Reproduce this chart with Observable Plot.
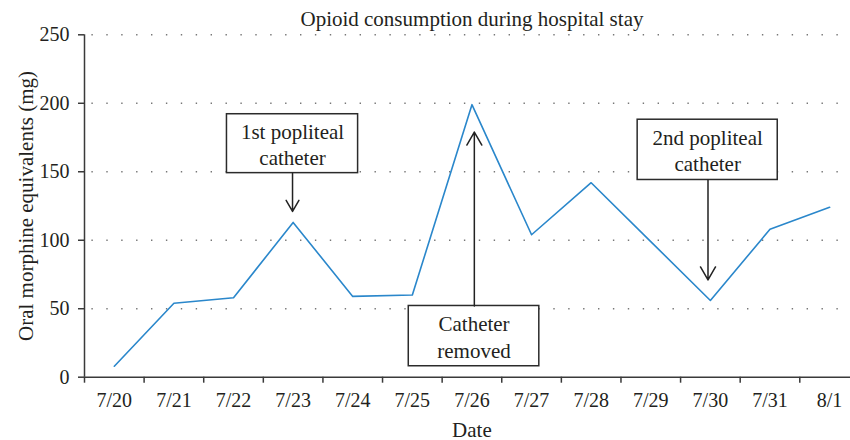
<!DOCTYPE html>
<html>
<head>
<meta charset="utf-8">
<script src="https://cdn.jsdelivr.net/npm/d3@7"></script>
<script src="https://cdn.jsdelivr.net/npm/@observablehq/plot@0.6"></script>
<style>
  html, body { margin: 0; padding: 0; background: #fff; }
</style>
</head>
<body>
<div id="chart"></div>
<script>
// Categories and values
const dates = ["7/20", "7/21", "7/22", "7/23", "7/24", "7/25", "7/26", "7/27", "7/28", "7/29", "7/30", "7/31", "8/1"];
const ome = [8, 54, 58, 113, 59, 60, 199, 104, 142, 99, 56, 108, 124];
const yTicks = [0, 50, 100, 150, 200, 250];

// Annotations (data units: x = day index, y = mg)
const noteText = ["1st popliteal\ncatheter", "Catheter\nremoved", "2nd popliteal\ncatheter"];
const noteX1 = [2.39, 5.44, 9.28];
const noteX2 = [4.59, 7.63, 11.63];
const noteY1 = [149, 8, 144];
const noteY2 = [192, 52, 188];
const arrowX = [3.49, 6.54, 10.46];
const arrowFrom = [149, 52, 144];
const arrowTo = [121, 179, 71];

const title = "Opioid consumption during hospital stay";
const yLabel = "Oral morphine equivalents (mg)";
const xLabel = "Date";

const idx = dates.map((d, i) => i);
const notes = noteText.map((d, i) => i);
const ink = "#231f20";
const axisInk = "#3a3a3a";

const chart = Plot.plot({
  width: 850,
  height: 440,
  marginLeft: 84,
  marginRight: -8.9,
  marginTop: 34.3,
  marginBottom: 63.3,
  style: { fontFamily: "'Liberation Serif', 'DejaVu Serif', serif", fontSize: "20px", color: ink, background: "#fff" },
  x: { type: "linear", domain: [0, 13] },
  y: { domain: [0, 250] },
  marks: [
    Plot.gridY(yTicks.filter(d => d > 0), { stroke: "#777", strokeOpacity: 1, strokeWidth: 1.4, strokeDasharray: "1.4,13.5", strokeDashoffset: 7.5 }),
    Plot.axisY(yTicks, { tickSize: 6, tickPadding: 9, fontSize: 20, label: null, stroke: axisInk, strokeWidth: 1.5, fill: ink }),
    Plot.axisX(d3.range(14), { tickSize: 6, tickFormat: () => "", label: null, stroke: axisInk, strokeWidth: 1.5 }),
    Plot.axisX(idx.map(i => i + 0.5), { tickSize: 0, tickPadding: 15.5, tickFormat: d => dates[Math.floor(d)], fontSize: 20, label: null, fill: ink }),
    Plot.ruleY([0], { stroke: axisInk, strokeWidth: 1.5 }),
    Plot.ruleX([0], { stroke: axisInk, strokeWidth: 1.5 }),
    Plot.line(idx, { x: i => i + 0.5, y: i => ome[i], stroke: "#2a87cb", strokeWidth: 1.6 }),
    Plot.rect(notes, { x1: i => noteX1[i], x2: i => noteX2[i], y1: i => noteY1[i], y2: i => noteY2[i], fill: "#fff", stroke: "#2b2b2b", strokeWidth: 1.5 }),
    Plot.text(notes, { x: i => (noteX1[i] + noteX2[i]) / 2, y: i => (noteY1[i] + noteY2[i]) / 2, text: i => noteText[i], fontSize: 21, lineHeight: 1.25, fill: ink, lineAnchor: "middle" }),
    Plot.arrow(notes, { x1: i => arrowX[i], x2: i => arrowX[i], y1: i => arrowFrom[i], y2: i => arrowTo[i], stroke: "#222", strokeWidth: 1.5, headLength: 15, headAngle: 60, bend: 0 }),
    Plot.text([title], { frameAnchor: "top", dy: -9.3, lineAnchor: "bottom", fontSize: 21, fill: ink }),
    Plot.text([yLabel], { frameAnchor: "left", textAnchor: "middle", dx: -52, rotate: -90, lineAnchor: "bottom", fontSize: 21, fill: ink }),
    Plot.text([xLabel], { frameAnchor: "bottom", dy: 59.3, lineAnchor: "bottom", fontSize: 21, fill: ink })
  ]
});
document.getElementById("chart").appendChild(chart);
</script>
</body>
</html>
